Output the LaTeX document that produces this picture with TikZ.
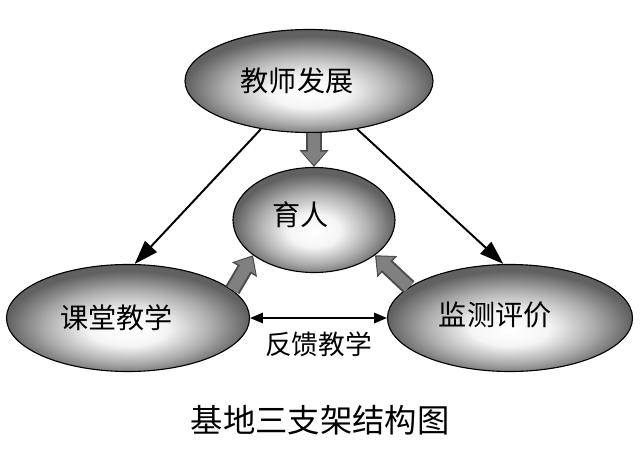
\documentclass[tikz,border=0pt]{standalone}
\usepackage{fontspec}
\setmainfont{Noto Sans CJK SC}
\usepackage{tikz}
\usetikzlibrary{arrows.meta, shapes.geometric}

\pgfdeclareradialshading{ballgray}{\pgfpoint{0bp}{-6bp}}{color(0bp)=(white); color(8bp)=(white!96!black); color(17bp)=(black!32); color(25bp)=(black!62); color(50bp)=(black!62)}

\begin{document}
\begin{tikzpicture}[part/.style={
	            ellipse,
	            draw,
	            thick,
	            shading=ballgray,
	            inner sep=0pt,
	            },
	            lbl/.style={font=\fontsize{20}{24}\selectfont},
	            thin arrow/.style={
	                draw,
	                line width=1.4pt,
	                -{Triangle[length=0.6cm, width=0.4cm]}
	            },
	            gray arrow/.style={
	                draw=black!70,
	                line width=0.4cm,
	                -{Triangle[length=0.42cm, width=0.7cm]}
	            },
	            gray fill/.style={
	                draw=black!50,
	                line width=0.3cm,
	                -{Triangle[length=0.33cm, width=0.58cm]},
	                shorten >=0.05cm
	            }]

	        \useasboundingbox (0,0) rectangle (16,-11.55);

	        % the four parts
	        \node[part, minimum width=6.2cm, minimum height=2.575cm,
	            label={[lbl, xshift=-0.3cm]center:教师发展}] (js) at (7.725,-2.025) {};
	        \node[part, minimum width=4.05cm, minimum height=2.625cm,
	            label={[lbl, xshift=-0.33cm, yshift=0.12cm]center:育人}] (yr) at (7.85,-5.5) {};
	        \node[part, minimum width=6.075cm, minimum height=2.675cm,
	            label={[lbl, xshift=-0.28cm]center:课堂教学}] (kt) at (3.2,-7.95) {};
	        \node[part, minimum width=6.125cm, minimum height=2.675cm,
	            label={[lbl, xshift=-0.37cm, yshift=0.07cm]center:监测评价}] (jc) at (12.75,-7.95) {};

	        % black arrows
	        \draw[thin arrow] (js.225) -- (kt.83);
	        \draw[thin arrow] (js.-45) -- (jc.97);
	        \draw[line width=1.2pt, {Triangle[length=0.32cm, width=0.26cm]}-{Triangle[length=0.32cm, width=0.26cm]}]
	            (kt.east) -- node[below=0.2cm, font=\fontsize{19}{22}\selectfont] (fk) {反馈教学} (jc.west);

	        % gray arrows into the centre
	        \draw[gray arrow] (yr.north |- js.south) -- (yr.north);
	        \draw[gray fill] (yr.north |- js.south) -- (yr.north);
	        \draw[gray arrow] (kt.15) -- (yr.210);
	        \draw[gray fill] (kt.15) -- (yr.210);
	        \draw[gray arrow] (jc.163) -- (yr.330);
	        \draw[gray fill] (jc.163) -- (yr.330);

	        % caption
	        \node[font=\fontsize{23}{27}\selectfont] (cap) at (8,-10.5) {基地三支架结构图};

	    \end{tikzpicture}
\end{document}
